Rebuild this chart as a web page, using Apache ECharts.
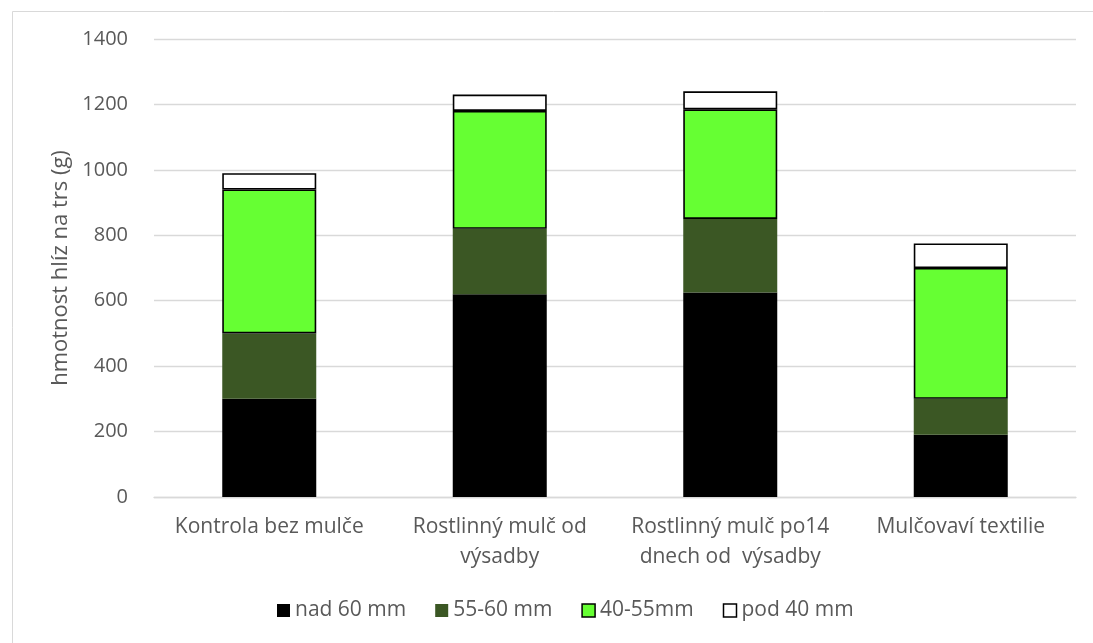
<!DOCTYPE html>
<html>
<head>
<meta charset="utf-8">
<script src="https://cdn.jsdelivr.net/npm/echarts@6/dist/echarts.min.js"></script>
<style>html,body{margin:0;padding:0;background:#fff}#c{width:1093px;height:643px}</style>
</head>
<body>
<div id="c"></div>
<script>
const categories = ['Kontrola bez mulče', 'Rostlinný mulč od\nvýsadby', 'Rostlinný mulč po14\ndnech od  výsadby', 'Mulčovaví textilie'];
const seriesNames = ['nad 60 mm', '55-60 mm', '40-55mm', 'pod 40 mm'];
const nad60 = [300, 620, 625, 190];
const s5560 = [200, 200, 225, 110];
const s4055 = [440, 360, 335, 400];
const pod40 = [50, 50, 55, 75];
const yTicks = {min: 0, max: 1400, interval: 200};

const FONT = 'Open Sans';
const TXT = '#595959';
const colors = ['#000000', '#3B5724', '#66FF33', '#FFFFFF'];
const borders = [0, 0, 1.6, 1.6];
const dataSets = [nad60, s5560, s4055, pod40];

const chart = echarts.init(document.getElementById('c'), null, {renderer: 'canvas'});
chart.setOption({
  animation: false,
  backgroundColor: '#fff',
  textStyle: {fontFamily: FONT},
  graphic: [{
    type: 'rect', left: 10, top: 9, shape: {width: 1200, height: 800},
    style: {fill: 'none', stroke: '#d9d9d9', lineWidth: 1}, silent: true
  }],
  grid: {left: 154, right: 17, top: 39, bottom: 146},
  legend: {
    data: seriesNames.map((n, i) => ({name: n, itemStyle: {color: colors[i], borderColor: '#000', borderWidth: i >= 2 ? 1.5 : 0}})),
    bottom: 17, left: 272,
    itemWidth: 13, itemHeight: 13, itemGap: 29,
    icon: 'rect',
    textStyle: {color: TXT, fontSize: 21, fontFamily: FONT}
  },
  xAxis: {
    type: 'category', data: categories,
    axisLine: {lineStyle: {color: '#d9d9d9', width: 1.3}},
    axisTick: {show: false},
    axisLabel: {color: TXT, fontSize: 21, fontFamily: FONT, margin: 15, lineHeight: 30, interval: 0}
  },
  yAxis: {
    type: 'value', min: yTicks.min, max: yTicks.max, interval: yTicks.interval,
    name: 'hmotnost hlíz na trs (g)', nameLocation: 'middle', nameGap: 82,
    nameTextStyle: {color: TXT, fontSize: 22, fontFamily: FONT},
    axisLine: {show: false}, axisTick: {show: false},
    axisLabel: {color: TXT, fontSize: 20, fontFamily: FONT, margin: 26, formatter: v => String(v)},
    splitLine: {lineStyle: {color: '#d9d9d9', width: 1.3}}
  },
  series: seriesNames.map((n, i) => ({
    name: n, type: 'bar', stack: 'total', data: dataSets[i], barWidth: 94,
    itemStyle: {color: colors[i], borderColor: '#000', borderWidth: borders[i]}
  }))
});
</script>
</body>
</html>
